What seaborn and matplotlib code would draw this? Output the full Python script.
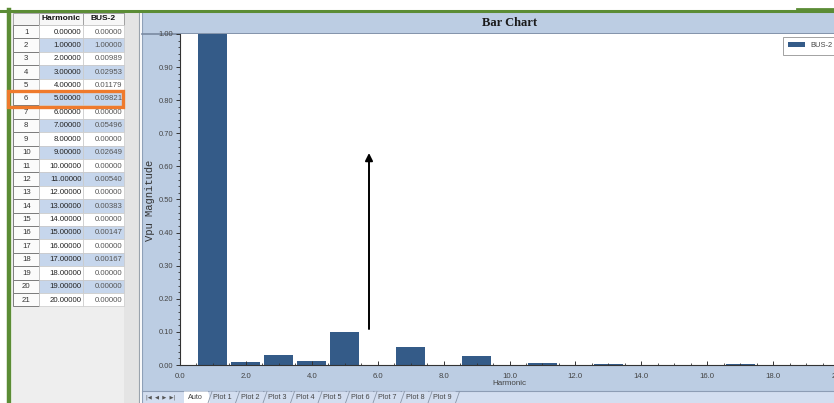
import matplotlib
matplotlib.use("Agg")
import matplotlib.pyplot as plt
from matplotlib.patches import Rectangle, Polygon
from matplotlib.ticker import MultipleLocator, FormatStrFormatter
import seaborn as sns
import pandas as pd

# Harmonic spectrum of BUS-2 (per-unit magnitude)
harmonic = [0, 1, 2, 3, 4, 5, 6, 7, 8, 9, 10, 11, 12, 13, 14, 15, 16, 17, 18, 19, 20]
bus2 = [0.00000, 1.00000, 0.00989, 0.02953, 0.01179, 0.09821, 0.00000, 0.05496,
        0.00000, 0.02649, 0.00000, 0.00540, 0.00000, 0.00383, 0.00000, 0.00147,
        0.00000, 0.00167, 0.00000, 0.00000, 0.00000]
series_name = "BUS-2"
table_header = ["Harmonic", "BUS-2"]
highlight_row = 6
tab_labels = ["Auto", "Plot 1", "Plot 2", "Plot 3", "Plot 4", "Plot 5",
              "Plot 6", "Plot 7", "Plot 8", "Plot 9"]

df = pd.DataFrame({"Harmonic": harmonic, series_name: bus2})

W, H = 834, 403
BAR = "#345b88"
PANEL = "#bccde3"
GREEN = "#5b8c35"
SANS = ["Liberation Sans", "DejaVu Sans"]

plt.rcParams["font.family"] = SANS
fig = plt.figure(figsize=(W / 100, H / 100), dpi=100)
fig.patch.set_facecolor("white")


def px_axes(zorder):
    a = fig.add_axes([0, 0, 1, 1], zorder=zorder)
    a.set_xlim(0, W)
    a.set_ylim(H, 0)
    a.axis("off")
    a.patch.set_alpha(0)
    return a


# ---- window background ----
bg = px_axes(0)
bg.add_patch(Rectangle((12, 12), 128, H - 12, fc="#eeeeee", ec="none"))
bg.add_patch(Rectangle((124, 12), 15, H - 12, fc="#e4e4e4", ec="none"))
bg.add_patch(Rectangle((142, 12), W - 142, H - 12, fc=PANEL, ec="none"))
bg.plot([139.5, 139.5], [12, H], color="#9aa3ad", lw=0.8)
bg.plot([142, 142], [12, H], color="#8ea0b8", lw=0.8)
bg.plot([142, W], [33.5, 33.5], color="#7a8aa2", lw=1.2)
bg.add_patch(Rectangle((142, 391), W - 142, 12, fc="#d3def0", ec="none"))
bg.plot([142, W], [391, 391], color="#8d9db5", lw=0.8)
bg.plot([0, W], [11, 11], color=GREEN, lw=2.2)
bg.plot([797, W], [8.5, 8.5], color=GREEN, lw=2.0)
bg.plot([9.5, 9.5], [10, H], color=GREEN, lw=3.2)

# ---- bar chart ----
x0, x1, y0, y1 = 180, 839, 34, 365
ax = fig.add_axes([x0 / W, 1 - y1 / H, (x1 - x0) / W, (y1 - y0) / H], zorder=1)
sns.barplot(data=df, x="Harmonic", y=series_name, native_scale=True, width=0.88,
            color=BAR, saturation=1, linewidth=0, label=series_name, ax=ax)
ax.set_facecolor("white")
ax.set_xlim(0, 20)
ax.set_ylim(0, 1.0)
ax.yaxis.set_major_locator(MultipleLocator(0.1))
ax.yaxis.set_minor_locator(MultipleLocator(0.02))
ax.yaxis.set_major_formatter(FormatStrFormatter("%.2f"))
ax.xaxis.set_major_locator(MultipleLocator(2))
ax.xaxis.set_minor_locator(MultipleLocator(0.5))
ax.xaxis.set_major_formatter(FormatStrFormatter("%.1f"))
ax.tick_params(axis="y", which="major", direction="out", length=3, width=0.7,
               colors="#333333", labelsize=5.4, labelcolor="#444444", pad=2)
ax.tick_params(axis="y", which="minor", direction="out", length=1.5, width=0.6,
               colors="#333333")
ax.tick_params(axis="x", which="major", direction="in", length=3, width=0.7,
               colors="#333333", labelsize=5.6, labelcolor="#444444", pad=6)
ax.tick_params(axis="x", which="minor", direction="in", length=1.5, width=0.6,
               colors="#333333")
for s in ["top", "right"]:
    ax.spines[s].set_visible(False)
for s in ["left", "bottom"]:
    ax.spines[s].set_color("#333333")
    ax.spines[s].set_linewidth(0.8)
ax.set_xlabel("Harmonic", fontsize=5.8, color="#444444", labelpad=0)
ax.set_ylabel("")
fig.text(150 / W, 1 - 200 / H, "Vpu Magnitude", rotation=90, ha="center", va="center",
         family=["Liberation Mono", "DejaVu Sans Mono"], fontsize=7.6, color="#333333")
fig.text(510 / W, 1 - 23 / H, "Bar Chart", ha="center", va="center",
         family=["Liberation Serif", "DejaVu Serif"], fontweight="bold", fontsize=9,
         color="#1a1a1a")
leg = ax.legend(loc="upper left", bbox_to_anchor=(783 / W, 1 - 37 / H),
                bbox_transform=fig.transFigure, fontsize=5.4, frameon=True,
                fancybox=False, handlelength=2.2, handleheight=0.6,
                handletextpad=0.8, borderpad=0.7, borderaxespad=0)
leg.get_frame().set_edgecolor("#8a8a8a")
leg.get_frame().set_linewidth(0.7)
for t in leg.get_texts():
    t.set_color("#444444")

# ---- data table, tabs and annotation ----
ov = px_axes(2)
c_num, c_h, c_v, c_end = 13, 39.5, 83, 124
top, rh = 25, 13.4
ov.add_patch(Rectangle((c_num, 13), c_v - c_num + (c_end - c_v), top - 13,
                       fc="#f4f4f4", ec="#9a9a9a", lw=0.6))
for xa, xb in [(c_h, c_v), (c_v, c_end)]:
    ov.add_patch(Rectangle((xa, 13), xb - xa, top - 13, fc="#f7f7f7", ec="#9a9a9a", lw=0.6))
ov.text((c_h + c_v) / 2, 19, table_header[0], ha="center", va="center",
        fontsize=6.0, fontweight="bold", color="#111111")
ov.text((c_v + c_end) / 2, 19, table_header[1], ha="center", va="center",
        fontsize=6.0, fontweight="bold", color="#111111")
for i, (h, v) in enumerate(zip(harmonic, bus2)):
    yt = top + i * rh
    row = i + 1
    fill = "#c6d6ec" if row % 2 == 0 else "white"
    ov.add_patch(Rectangle((c_num, yt), c_h - c_num, rh, fc="#fbfbfb", ec="#7d7d7d", lw=0.7))
    ov.add_patch(Rectangle((c_h, yt), c_v - c_h, rh, fc=fill, ec="#c9c9c9", lw=0.5))
    ov.add_patch(Rectangle((c_v, yt), c_end - c_v, rh, fc=fill, ec="#c9c9c9", lw=0.5))
    cy = yt + rh / 2 + 0.3
    ov.text((c_num + c_h) / 2, cy, str(row), ha="center", va="center",
            fontsize=5.6, color="#333333")
    ov.text(c_v - 1.5, cy, f"{h:.5f}", ha="right", va="center", fontsize=5.6, color="#222222")
    ov.text(c_end - 1.5, cy, f"{v:.5f}", ha="right", va="center", fontsize=5.6, color="#555555")

hy = top + (highlight_row - 1) * rh
ov.add_patch(Rectangle((8.5, hy - 1.5), 115, rh + 3.2, fc="none", ec="#ef7a2c", lw=2.4))

ov.annotate("", xy=(369, 153), xytext=(369, 329),
            arrowprops=dict(arrowstyle="-|>", color="black", lw=1.4, mutation_scale=11,
                            shrinkA=0, shrinkB=0))

# sheet tabs along the bottom edge
ov.text(161, 397.5, "|◀  ◀  ▶  ▶|", ha="center", va="center", fontsize=3.8,
        color="#555555", family=["DejaVu Sans"])
tx = 186
for k, lab in enumerate(tab_labels):
    wdt = 22 if k == 0 else 24
    fc = "white" if k == 0 else "#d3def0"
    ov.add_patch(Polygon([(tx - 2, 391.5), (tx + wdt, 391.5), (tx + wdt + 4, 403),
                          (tx - 2, 403)], closed=True, fc=fc, ec="none"))
    ov.plot([tx + wdt, tx + wdt + 4], [403, 391.5], color="#8a96a8", lw=0.6)
    ov.text(tx + 2, 397.5, lab, ha="left", va="center", fontsize=5.2, color="#444444")
    tx += wdt + 3.5

fig.savefig("out.png", dpi=100)
